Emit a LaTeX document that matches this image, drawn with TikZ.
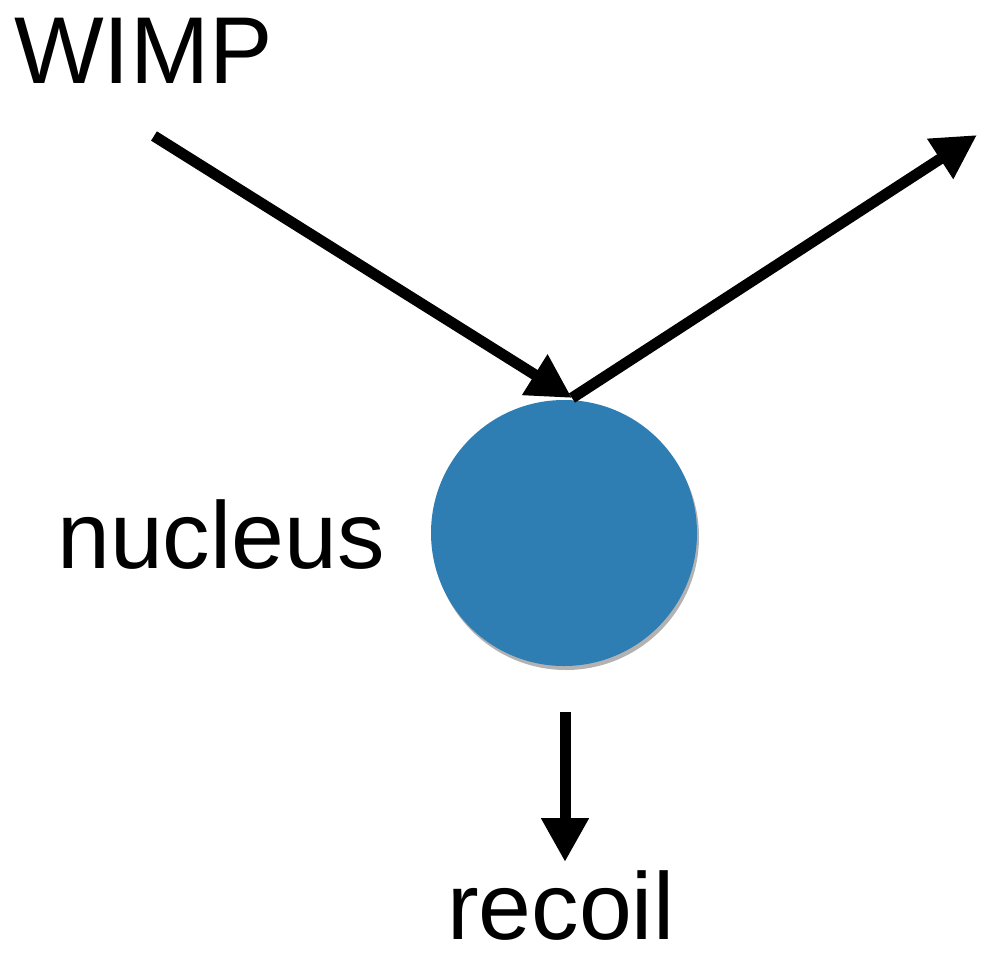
\documentclass[tikz,border=0pt]{standalone}
\usepackage{fontspec}
\setmainfont{Liberation Sans}
\usetikzlibrary{arrows.meta,shadows}
\definecolor{nucblue}{RGB}{46,126,180}
\tikzset{
  lbl/.style={anchor=base west, inner sep=0pt, font=\fontsize{95}{114}\selectfont},
  ray/.style={line width=11pt, -{Triangle[length=44pt,width=45pt]}},
  nucstyle/.style={circle, fill=nucblue, minimum size=266pt, inner sep=0pt,
    drop shadow={shadow xshift=2pt, shadow yshift=-4pt, opacity=0.3, fill=black}}
}
\begin{document}
\begin{tikzpicture}[x=1pt,y=-1pt]
\path[use as bounding box, fill=white] (0,0) rectangle (985,954);
\node[nucstyle] (nuc) at (564,533) {};
\node[lbl] (wimp) at (14,83) {WIMP};
\node[lbl] (nucl) at (57,568) {nucleus};
\node[lbl] (rec) at (447,939) {recoil};
\coordinate (win) at (154,136);
\coordinate (hit) at (572,398);
\coordinate (wout) at (977,135);
\coordinate (rs) at (565,712);
\coordinate (re) at (565,862);
\draw[ray] (win) -- (hit);
\draw[ray] (hit) -- (wout);
\draw[ray] (rs) -- (re);
\end{tikzpicture}
\end{document}
